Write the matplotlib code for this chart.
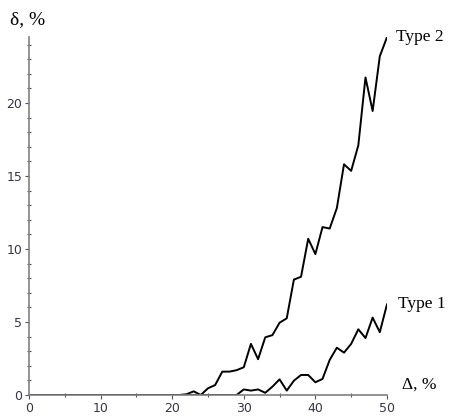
import numpy as np
import matplotlib.pyplot as plt
from matplotlib.ticker import MultipleLocator

plt.rcParams['font.family'] = ['Liberation Serif', 'DejaVu Serif']

# relative error delta (%) vs. deviation Delta (%)
delta_pct = np.arange(0, 51)
type1 = [0.0] * 30 + [0.38, 0.3, 0.38, 0.15, 0.57, 1.07, 0.3, 0.98, 1.37, 1.37,
                      0.87, 1.1, 2.4, 3.24, 2.9, 3.5, 4.5, 3.9, 5.3, 4.3, 6.2]
type2 = [0.0] * 22 + [0.05, 0.25, 0.0, 0.46, 0.68, 1.6, 1.6, 1.7, 1.9, 3.5,
                      2.45, 3.95, 4.1, 4.95, 5.25, 7.9, 8.1, 10.7, 9.65, 11.5,
                      11.4, 12.8, 15.8, 15.35, 17.1, 21.75, 19.45, 23.2, 24.5]

fig = plt.figure(figsize=(4.51, 4.17), dpi=100)
ax = fig.add_axes([0.0643, 0.0528, 0.858 - 0.0643, 0.9106 - 0.0528])

ax.plot(delta_pct, type2, color='black', lw=1.4)
ax.plot(delta_pct, type1, color='black', lw=1.4)

ax.set_xlim(0, 50)
ax.set_ylim(0, 24.5)
for s in ['top', 'right']:
    ax.spines[s].set_visible(False)
for s in ['left', 'bottom']:
    ax.spines[s].set_color('#808080')
    ax.spines[s].set_linewidth(1.2)
ax.patch.set_alpha(0)

ax.xaxis.set_major_locator(MultipleLocator(10))
ax.xaxis.set_minor_locator(MultipleLocator(5))
ax.yaxis.set_major_locator(MultipleLocator(5))
ax.yaxis.set_minor_locator(MultipleLocator(1))
ax.tick_params(which='major', direction='out', length=3, width=0.8,
               color='#555555', labelsize=9, labelcolor='#3a3448', pad=2)
ax.tick_params(which='minor', direction='inout', length=3, width=0.8,
               color='#555555')
for lbl in ax.get_xticklabels() + ax.get_yticklabels():
    lbl.set_family('DejaVu Sans')

ax.text(51.3, 24.5, 'Type 2', fontsize=12.5, va='center', ha='left')
ax.text(51.5, 6.2, 'Type 1', fontsize=12.5, va='center', ha='left')
ax.text(52.1, 0.7, 'Δ, %', fontsize=12.5, va='center', ha='left', clip_on=False)
fig.text(0.022, 0.952, 'δ, %', fontsize=14, va='center', ha='left')

fig.savefig('out.png', dpi=100)
